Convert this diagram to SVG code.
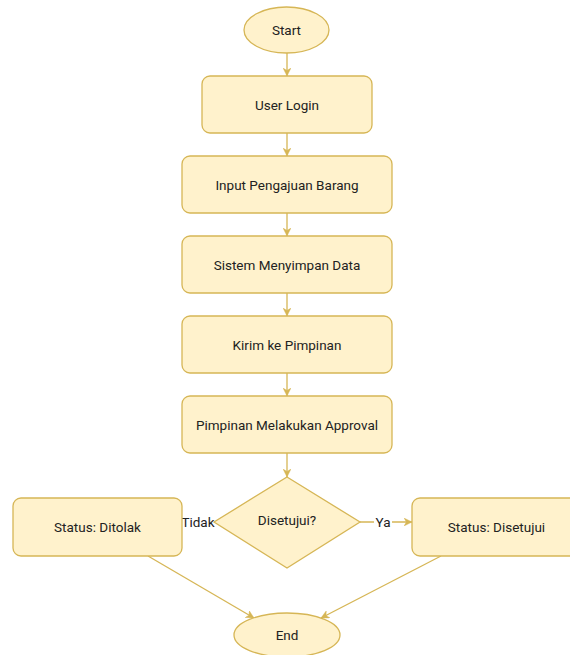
<svg xmlns="http://www.w3.org/2000/svg" width="570" height="655" viewBox="0 0 570 655">
<style>
.n{fill:#fff2cc;stroke:#d6b656;stroke-width:1.3}
.t{font-family:Roboto,"Liberation Sans",Arial,sans-serif;font-size:13.5px;fill:#222;text-anchor:middle;dominant-baseline:central}
.e{fill:none;stroke:#d6b656;stroke-width:1.3}
.l{font-family:Roboto,"Liberation Sans",Arial,sans-serif;font-size:13.5px;fill:#222;text-anchor:middle;dominant-baseline:central}
</style>
<defs>
<marker id="a" viewBox="0 0 10 10" refX="10" refY="5" markerWidth="8" markerHeight="8" orient="auto" markerUnits="userSpaceOnUse">
<path d="M0,0 L10,5 L0,10 L3,5 z" fill="#d6b656" stroke="#d6b656" stroke-width="0.5"/>
</marker>
</defs>
<rect width="570" height="655" fill="#ffffff"/>
<g id="connectors">
<line class="e" x1="287" y1="53" x2="287" y2="76" marker-end="url(#a)"/>
<line class="e" x1="287" y1="133" x2="287" y2="156" marker-end="url(#a)"/>
<line class="e" x1="287" y1="213" x2="287" y2="236" marker-end="url(#a)"/>
<line class="e" x1="287" y1="293" x2="287" y2="316" marker-end="url(#a)"/>
<line class="e" x1="287" y1="373" x2="287" y2="396" marker-end="url(#a)"/>
<line class="e" x1="287" y1="453" x2="287" y2="477" marker-end="url(#a)"/>
<line class="e" x1="214" y1="522" x2="182" y2="522" marker-end="url(#a)"/>
<line class="e" x1="360" y1="522" x2="412" y2="522" marker-end="url(#a)"/>
<line class="e" x1="148" y1="556" x2="254" y2="618" marker-end="url(#a)"/>
<line class="e" x1="441" y1="556" x2="321" y2="618" marker-end="url(#a)"/>
<rect x="180" y="513" width="36" height="18" fill="#ffffff"/>
<text class="l" x="198" y="522">Tidak</text>
<rect x="374" y="513" width="18" height="18" fill="#ffffff"/>
<text class="l" x="383" y="522">Ya</text>
</g>
<g id="start"><ellipse class="n" cx="286.5" cy="30" rx="42.5" ry="23"/><text class="t" x="286.5" y="30">Start</text></g>
<g id="user-login"><rect class="n" x="202" y="76" width="170" height="57" rx="8"/><text class="t" x="287" y="104.5">User Login</text></g>
<g id="input"><rect class="n" x="182" y="156" width="210" height="57" rx="8"/><text class="t" x="287" y="184.5">Input Pengajuan Barang</text></g>
<g id="sistem"><rect class="n" x="182" y="236" width="210" height="57" rx="8"/><text class="t" x="287" y="264.5">Sistem Menyimpan Data</text></g>
<g id="kirim"><rect class="n" x="182" y="316" width="210" height="57" rx="8"/><text class="t" x="287" y="344.5">Kirim ke Pimpinan</text></g>
<g id="approval"><rect class="n" x="182" y="396" width="210" height="57" rx="8"/><text class="t" x="287" y="424.5">Pimpinan Melakukan Approval</text></g>
<g id="decision"><polygon class="n" points="287,477 360,522 287,568 214,522"/><text class="t" x="287" y="520">Disetujui?</text></g>
<g id="ditolak"><rect class="n" x="13" y="498" width="169" height="58" rx="8"/><text class="t" x="97.5" y="527">Status: Ditolak</text></g>
<g id="disetujui"><rect class="n" x="412" y="498" width="169" height="58" rx="8"/><text class="t" x="496.5" y="527">Status: Disetujui</text></g>
<g id="end"><ellipse class="n" cx="287" cy="635" rx="53" ry="22"/><text class="t" x="287" y="635">End</text></g>
</svg>
